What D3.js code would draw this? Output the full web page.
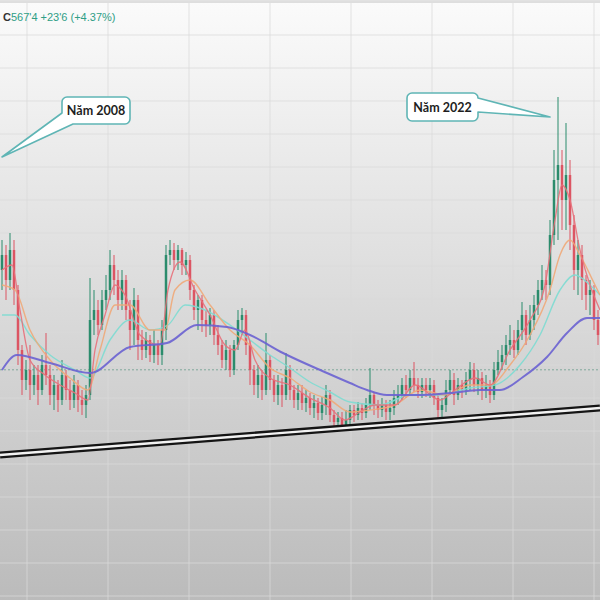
<!DOCTYPE html>
<html><head><meta charset="utf-8">
<script src="https://cdn.jsdelivr.net/npm/d3@7"></script>
<style>html,body{margin:0;padding:0;background:#fff}svg{display:block}</style>
</head><body><div id="chart"></div>
<script>
// ---- data (price in cents) ----
const opens = [
767,797,747,807,727,607,547,567,537,557,
527,577,557,517,537,507,557,527,507,537,
507,497,517,667,687,657,707,727,777,747,
707,747,687,647,707,627,607,627,597,617,
597,647,797,807,787,807,777,787,727,687,
707,667,657,677,637,617,587,607,567,617,
667,677,617,567,537,557,527,587,547,517,
537,517,567,527,507,521,501,511,491,501,
481,497,517,477,463,471,457,467,487,477,
491,481,497,517,497,487,497,483,491,511,
517,537,527,551,537,523,537,527,537,511,
487,497,527,547,517,537,527,547,567,537,
551,527,537,517,567,583,597,617,627,607,
647,677,637,667,697,727,747,737,837,947,
977,907,957,857,767,797,747,717,727,667];
const highs = [
827,817,841,827,737,617,587,617,577,577,
597,641,577,557,547,587,567,547,557,547,
527,537,751,727,707,727,757,807,797,767,
767,757,707,731,717,647,643,637,647,627,
667,817,827,821,817,811,803,797,737,717,
717,687,691,687,657,627,627,617,627,687,
691,687,627,577,577,567,641,597,557,557,
551,601,577,537,537,537,527,521,517,511,
513,537,527,487,483,483,487,497,497,503,
501,511,571,523,507,511,507,507,527,537,
551,557,567,583,551,551,551,551,547,517,
511,547,567,561,551,547,563,583,581,567,
563,557,547,583,607,617,637,657,647,667,
703,687,697,717,747,777,767,867,1007,1113,
1007,1061,987,877,827,817,757,747,737,687];
const lows = [
727,707,727,697,577,517,527,507,517,497,
517,537,497,487,483,497,507,487,491,483,
477,471,507,637,637,647,687,707,717,687,
687,667,607,617,587,587,591,583,581,577,
577,627,777,767,767,757,757,707,667,647,
643,633,637,617,597,571,567,553,557,607,
637,597,537,517,511,507,517,527,503,497,
493,507,507,491,487,487,483,477,471,467,
467,477,463,451,447,447,447,457,463,467,
467,471,487,477,471,473,467,467,477,497,
507,511,517,523,511,511,513,511,497,471,
467,483,517,497,507,511,517,527,523,517,
507,511,501,507,557,567,577,597,591,597,
627,617,627,647,677,707,707,717,817,827,
847,847,807,727,717,707,687,677,647,617];
const closes = [
797,747,807,727,607,547,567,537,557,527,
577,557,517,537,507,557,527,507,537,507,
497,517,667,687,657,707,727,777,747,707,
747,687,647,707,627,607,627,597,617,597,
647,797,807,787,807,777,787,727,687,707,
667,657,677,637,617,587,607,567,617,667,
677,617,567,537,557,527,587,547,517,537,
517,567,527,507,521,501,511,491,501,481,
497,517,477,463,471,457,467,487,477,491,
481,497,517,497,487,497,483,491,511,517,
537,527,551,537,523,537,527,537,511,487,
497,527,547,517,537,527,547,567,537,551,
527,537,517,567,583,597,617,627,607,647,
677,637,667,697,727,747,737,837,947,977,
907,957,857,767,797,747,717,727,667,637];

// moving averages: [candle index, price]
const maFast = [[0,767],[2.5,777],[4.5,687],[7,587],[10.75,557],[14.5,537],[18.25,521],[21.5,507],[23.25,607],[25.75,677],[28.25,737],[30.75,717],[34.5,637],[39.5,617],[41.5,727],[44.5,783],[48.25,727],[52,677],[55.75,617],[58.25,607],[60.75,647],[63.25,587],[67,551],[72,537],[77,511],[82,491],[85.75,467],[89.5,483],[93.25,497],[98.25,497],[103.25,537],[109.5,507],[113.25,527],[118.25,551],[122,537],[127,607],[132,667],[135.75,737],[138.25,867],[140,937],[142,907],[144.5,807],[147,737],[149.5,687]];
const maMid = [[0,737],[3.25,727],[7,647],[12,587],[17,551],[21.5,527],[24.5,607],[28.25,697],[32,697],[37,647],[40.75,647],[43.25,727],[47,747],[52,697],[57,647],[62,617],[67,571],[72,551],[77,523],[82,507],[87,483],[92,487],[98.25,497],[104.5,527],[110.75,517],[117,537],[122,537],[127,577],[132,637],[137,727],[139.5,797],[142,827],[144.5,797],[148.25,737],[149.5,717]];
const maSlowCyan = [[0,677],[3.25,677],[7,637],[12,597],[18.25,567],[22,551],[27,627],[32,667],[37,647],[41.5,657],[45.75,697],[50.75,687],[57,657],[62,627],[67,597],[72,571],[77,543],[82,523],[87,503],[94.5,497],[102,517],[109.5,517],[117,531],[123.25,537],[129.5,577],[134.5,637],[139.5,727],[143.25,757],[147,737],[149.5,717]];
const maLong = [[0,567],[3.75,597],[12,581],[22,561],[32,613],[41.25,621],[48.75,657],[56.25,653],[62,637],[70.25,601],[81.25,561],[87,541],[91.25,527],[96.25,517],[103.75,517],[112,521],[119.5,527],[124.5,527],[130.25,553],[136.25,593],[141.25,641],[146.25,671],[149.5,671]];

const trendIdx = [-0.5, 149.5];
const trendPrice = [397, 491];
const lastPrice = 567.4;
const headerLetter = "C";
const headerText = "567'4  +23'6 (+4.37%)";
const annLabels = ["Năm 2008", "Năm 2022"];
const annIdx = [0, 137];
const annPrice = [993, 1073];

// ---- drawing ----
const W = 600, H = 600;
const svg = d3.select("#chart").append("svg").attr("width", W).attr("height", H);
const defs = svg.append("defs");
const grad = defs.append("linearGradient").attr("id","bg").attr("x1",0).attr("y1",0).attr("x2",0).attr("y2",1);
grad.append("stop").attr("offset","0%").attr("stop-color","#fbfbfb");
grad.append("stop").attr("offset","100%").attr("stop-color","#bbbbbb");
svg.append("rect").attr("width",W).attr("height",H).attr("fill","url(#bg)");
svg.append("rect").attr("width",W).attr("height",3).attr("fill","#e2e2e2");

const idx = d3.range(closes.length);
const x = d3.scaleBand().domain(idx).range([0, W]).padding(0);
const xl = d3.scaleLinear().domain([-0.5, closes.length - 0.5]).range([0, W]);
const y = d3.scaleLinear().domain([107, 1307]).range([H, 0]);

// grid
const g = svg.append("g");
g.selectAll(".hg").data(d3.range(115, 1307, 66)).join("line")
  .attr("x1",0).attr("x2",W).attr("y1",d=>y(d)).attr("y2",d=>y(d))
  .attr("stroke","#d9d9d9").attr("stroke-opacity",0.75).attr("stroke-width",1);
g.selectAll(".vg").data(d3.range(6.25, 150, 20.25)).join("line")
  .attr("y1",3).attr("y2",H).attr("x1",d=>xl(d)).attr("x2",d=>xl(d))
  .attr("stroke","#d9d9d9").attr("stroke-opacity",0.75).attr("stroke-width",1);

// last price dotted line
svg.append("line").attr("x1",0).attr("x2",W).attr("y1",y(lastPrice)).attr("y2",y(lastPrice))
  .attr("stroke","#7fa89c").attr("stroke-width",1).attr("stroke-dasharray","2,2");

// candles
const up = "#2b8c6c", dn = "#dc5563";
const bw = x.bandwidth() * 0.62;
const cg = svg.append("g");
idx.forEach(i => {
  const cx = x(i) + x.bandwidth()/2;
  const col = closes[i] >= opens[i] ? up : dn;
  cg.append("line").attr("x1",cx).attr("x2",cx).attr("y1",y(highs[i])).attr("y2",y(lows[i]))
    .attr("stroke",col).attr("stroke-width",1);
  const top = y(Math.max(opens[i],closes[i])), bot = y(Math.min(opens[i],closes[i]));
  cg.append("rect").attr("x",cx - bw/2).attr("y",top).attr("width",bw).attr("height",Math.max(1,bot-top))
    .attr("fill",col);
});

// moving averages
const line = d3.line().x(d=>xl(d[0])).y(d=>y(d[1])).curve(d3.curveMonotoneX);
[[maSlowCyan,"#7ddcd2",1.4],[maMid,"#f0a878",1.4],[maFast,"#e8707a",1.3],[maLong,"#6a62d2",2]].forEach(([d,c,w])=>{
  svg.append("path").attr("d",line(d)).attr("fill","none").attr("stroke",c).attr("stroke-width",w).attr("stroke-opacity",0.9);
});

// trend line (double)
const tl = [[trendIdx[0],trendPrice[0]],[trendIdx[1],trendPrice[1]]];
const tline = d3.line().x(d=>xl(d[0])).y(d=>y(d[1]));
svg.append("path").attr("d",tline(tl)).attr("stroke","#151515").attr("stroke-width",7).attr("fill","none");
svg.append("path").attr("d",tline(tl)).attr("stroke","#f2f2f2").attr("stroke-width",2.4).attr("fill","none");

// header
const ht = svg.append("text").attr("x",3).attr("y",21).attr("font-family","Liberation Sans, Arial, sans-serif").attr("font-size",11);
ht.append("tspan").attr("fill","#333").attr("font-weight","bold").text(headerLetter);
ht.append("tspan").attr("fill","#2f9e86").text(headerText);

// callouts
function bubble(tipX, tipY, bx, by, bw2, bh, side, label){
  const r = 5, p = d3.path();
  if (side === "left") {
    // wedge at bottom-left corner
    p.moveTo(bx + r, by); p.lineTo(bx + bw2 - r, by);
    p.arcTo(bx + bw2, by, bx + bw2, by + r, r);
    p.lineTo(bx + bw2, by + bh - r);
    p.arcTo(bx + bw2, by + bh, bx + bw2 - r, by + bh, r);
    p.lineTo(bx + 11, by + bh);
    p.lineTo(tipX, tipY);
    p.lineTo(bx, by + bh - 11);
    p.lineTo(bx, by + r);
    p.arcTo(bx, by, bx + r, by, r);
  } else {
    p.moveTo(bx + r, by); p.lineTo(bx + bw2 - r, by);
    p.arcTo(bx + bw2, by, bx + bw2, by + r, r);
    p.lineTo(tipX, tipY);
    p.lineTo(bx + bw2, by + bh - 9);
    p.lineTo(bx + bw2, by + bh - r);
    p.arcTo(bx + bw2, by + bh, bx + bw2 - r, by + bh, r);
    p.lineTo(bx + r, by + bh);
    p.arcTo(bx, by + bh, bx, by + bh - r, r);
    p.lineTo(bx, by + r);
    p.arcTo(bx, by, bx + r, by, r);
  }
  p.closePath();
  svg.append("path").attr("d", p.toString()).attr("fill","#ffffff").attr("stroke","#5fb5b5").attr("stroke-width",1.6).attr("stroke-linejoin","round");
  svg.append("text").attr("x", bx + bw2/2).attr("y", by + bh/2 + 4.5).attr("text-anchor","middle")
    .attr("font-family","Lato, 'Open Sans', sans-serif").attr("font-weight","bold").attr("font-size",12.5)
    .attr("fill","#1e1e1e").text(label);
}
bubble(xl(annIdx[0]), y(annPrice[0]), 62, 97, 68, 27, "left", annLabels[0]);
bubble(xl(annIdx[1]), y(annPrice[1]), 407, 93, 71, 28, "right", annLabels[1]);
</script></body></html>
